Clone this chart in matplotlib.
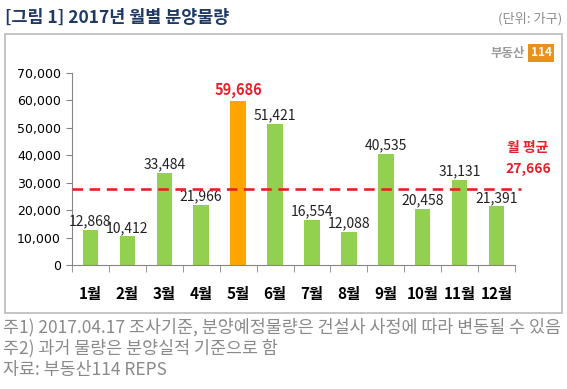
import matplotlib
matplotlib.use("Agg")
import matplotlib.pyplot as plt
from matplotlib.patches import Rectangle

plt.rcParams['font.family'] = ['Noto Sans CJK KR', 'DejaVu Sans']

# ── data ──────────────────────────────────────────────────────────────────────
months = ["1월", "2월", "3월", "4월", "5월", "6월", "7월", "8월", "9월", "10월", "11월", "12월"]
supply = [12868, 10412, 33484, 21966, 59686, 51421, 16554, 12088, 40535, 20458, 31131, 21391]
avg_supply = 27666
peak_idx = 4

GREEN = "#92d050"
ORANGE = "#ffa500"
RED = "#e8202a"

W, H = 567, 389
fig = plt.figure(figsize=(W / 100, H / 100), dpi=100)

def fx(px):
    return px / W

def fy(py):
    return 1 - py / H

# outer frame
fig.patches.append(Rectangle((fx(5), fy(313)), fx(557), 279 / H, transform=fig.transFigure,
                             fill=False, ec="#bfbfbf", lw=1.3))

# title + unit
fig.text(fx(5), fy(18), "[그림 1] 2017년 월별 분양물량", fontsize=12.5, fontweight="bold",
         color="#1f3864", va="center", ha="left")
fig.text(fx(562), fy(19), "(단위: 가구)", fontsize=9.5, color="#8c8c8c", va="center", ha="right")

# logo
fig.text(fx(525), fy(53), "부동산", fontsize=9, fontweight="bold", color="#9a9a9a",
         va="center", ha="right")
fig.text(fx(541), fy(53), "114", fontsize=8.5, fontweight="bold", color="white",
         va="center", ha="center",
         bbox=dict(boxstyle="square,pad=0.25", fc="#e8921e", ec="none"))

# ── chart ─────────────────────────────────────────────────────────────────────
ax = fig.add_axes([fx(72), fy(265), fx(515 - 72), (265 - 73) / H])
x = list(range(len(months)))
colors = [ORANGE if i == peak_idx else GREEN for i in x]
ax.bar(x, supply, width=0.42, color=colors, zorder=2)

for i, v in enumerate(supply):
    if i == peak_idx:
        ax.text(i, v + 1200, f"{v:,}", ha="center", va="bottom", fontsize=10.5,
                fontweight="bold", color=RED)
    else:
        ax.text(i, v + 500, f"{v:,}", ha="center", va="bottom", fontsize=10, color="#222222")

ax.plot([-0.5, 11.65], [avg_supply, avg_supply], ls=(0, (4, 2.5)), color=RED, lw=1.9,
        clip_on=False, zorder=3)
ax.text(11.85, 42800, "월 평균", ha="center", va="center", fontsize=10,
        fontweight="bold", color=RED)
ax.text(11.85, 35000, f"{avg_supply:,}", ha="center", va="center", fontsize=10,
        fontweight="bold", color=RED)

ax.set_xlim(-0.5, 11.5)
ax.set_ylim(0, 70000)
ax.set_yticks(range(0, 70001, 10000))
ax.set_yticklabels([f"{t:,}" for t in range(0, 70001, 10000)], family="DejaVu Sans")
ax.set_xticks(x)
ax.set_xticklabels(months, fontsize=11, fontweight="bold")
ax.set_xticks([i - 0.5 for i in range(13)], minor=True)
ax.tick_params(axis="x", which="major", length=0, pad=15)
ax.tick_params(axis="x", which="minor", length=5, color="#868686")
ax.tick_params(axis="y", length=4, color="#868686", labelsize=9, pad=4)
for s in ["top", "right"]:
    ax.spines[s].set_visible(False)
for s in ["left", "bottom"]:
    ax.spines[s].set_color("#868686")

# ── footnotes ─────────────────────────────────────────────────────────────────
notes = ["주1) 2017.04.17 조사기준, 분양예정물량은 건설사 사정에 따라 변동될 수 있음",
         "주2) 과거 물량은 분양실적 기준으로 함",
         "자료: 부동산114 REPS"]
for k, line in enumerate(notes):
    fig.text(fx(3), fy(327 + 21.5 * k), line, fontsize=12.5, color="#8a8a8a",
             va="center", ha="left")

fig.savefig("out.png", dpi=100)
